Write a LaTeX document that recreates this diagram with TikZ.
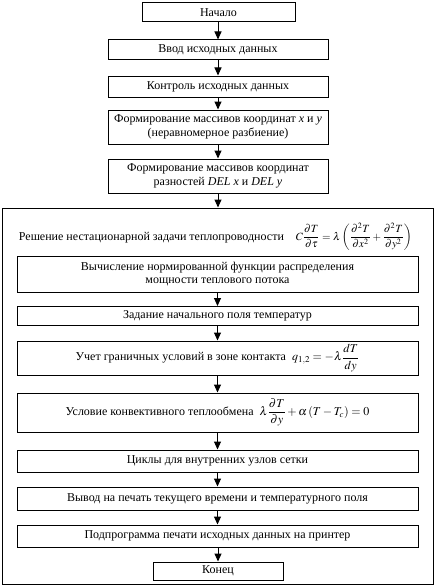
\documentclass[tikz,border=0pt]{standalone}
\usepackage{mathptmx}
\usepackage[no-math]{fontspec}
\setmainfont{Liberation Serif}
\usetikzlibrary{arrows.meta}
\tikzset{
  blk/.style={draw, line width=1pt, rectangle, inner sep=0pt, align=center,
    font=\fontsize{12}{13.5}\selectfont},
  arr/.style={line width=1pt, -{Triangle[length=8pt,width=7pt]}},
}
\begin{document}
\begin{tikzpicture}[x=1pt,y=-1pt]
\useasboundingbox (0,0) rectangle (436,586);
\node[blk, minimum width=153pt, minimum height=19pt] (start) at (218.5,12.5) {Начало};
\node[blk, minimum width=220pt, minimum height=20pt] (vvod) at (218,50) {Ввод исходных данных};
\node[blk, minimum width=220pt, minimum height=21pt] (kontr) at (218,86.5) {Контроль исходных данных};
\node[blk, minimum width=220pt, minimum height=34pt] (form1) at (218,127) {Формирование массивов координат \textit{x} и \textit{y}\\(неравномерное разбиение)};
\node[blk, minimum width=220pt, minimum height=34pt] (form2) at (218,176) {Формирование массивов координат\\разностей \textit{DEL x} и \textit{DEL y}};
\node[blk, minimum width=431pt, minimum height=376pt] (outer) at (217.5,396) {};
\node[font=\fontsize{12}{13.5}\selectfont, inner sep=0pt] (resh) at (215.5,237) {Решение нестационарной задачи теплопроводности\quad {\fontsize{11}{12}\selectfont$\displaystyle C\frac{\partial T}{\partial\tau}=\lambda\left(\frac{\partial^2 T}{\partial x^2}+\frac{\partial^2 T}{\partial y^2}\right)$}};
\node[blk, minimum width=401pt, minimum height=36pt] (vych) at (217.5,274) {Вычисление нормированной функции распределения\\мощности теплового потока};
\node[blk, minimum width=401pt, minimum height=19pt] (zad) at (217.5,316) {Задание начального поля температур};
\node[blk, minimum width=401pt, minimum height=34pt] (uchet) at (217.5,358) {Учет граничных условий в зоне контакта\ \ $\displaystyle q_{1,2}=-\lambda\frac{dT}{dy}$};
\node[blk, minimum width=401pt, minimum height=39pt] (uslov) at (217.5,412.5) {Условие конвективного теплообмена\ \ $\displaystyle \lambda\frac{\partial T}{\partial y}+\alpha\left(T-T_c\right)=0$};
\node[blk, minimum width=401pt, minimum height=22pt] (cikl) at (217.5,461) {Циклы для внутренних узлов сетки};
\node[blk, minimum width=401pt, minimum height=23pt] (vyvod) at (217.5,498.5) {Вывод на печать текущего времени и температурного поля};
\node[blk, minimum width=401pt, minimum height=22pt] (podpr) at (217.5,536) {Подпрограмма печати исходных данных на принтер};
\node[blk, minimum width=130pt, minimum height=18pt] (konec) at (218,571) {Конец};
\draw[arr] (start.south -| vvod.north) -- (vvod.north);
\draw[arr] (vvod.south) -- (kontr.north);
\draw[arr] (kontr.south) -- (form1.north);
\draw[arr] (form1.south) -- (form2.north);
\draw[arr] (form2.south) -- (form2.south |- outer.north);
\draw[arr] (vych.south -| zad.north) -- (zad.north);
\draw[arr] (zad.south) -- (uchet.north);
\draw[arr] (uchet.south) -- (uslov.north);
\draw[arr] (uslov.south) -- (cikl.north);
\draw[arr] (cikl.south) -- (vyvod.north);
\draw[arr] (vyvod.south) -- (podpr.north);
\draw[arr] (podpr.south -| konec.north) -- (konec.north);
\end{tikzpicture}
\end{document}
